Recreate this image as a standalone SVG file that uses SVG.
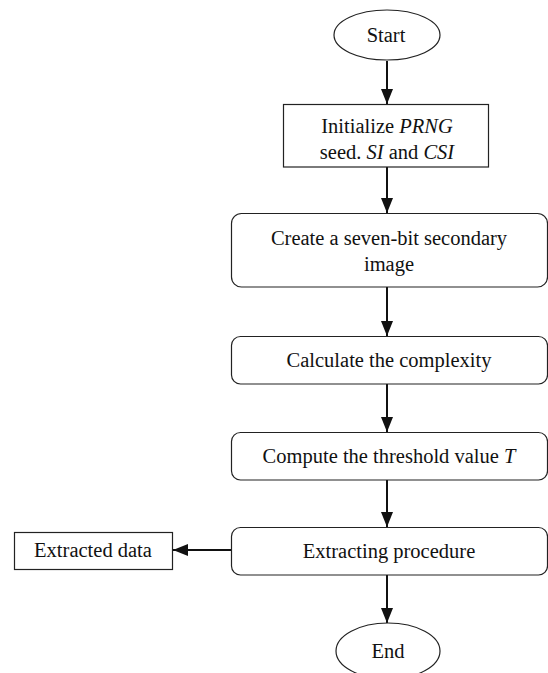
<svg xmlns="http://www.w3.org/2000/svg" width="548" height="673" viewBox="0 0 548 673">
<defs>
<style>
.shape{fill:#fff;stroke:#222;stroke-width:1.2}
.t{font-family:"Liberation Serif","Times New Roman",serif;font-size:20.5px;fill:#111;text-anchor:middle}
.it{font-style:italic}
.conn{stroke:#111;stroke-width:2;fill:none}
</style>
<marker id="av" viewBox="0 0 15 12" refX="15" refY="6" markerWidth="15" markerHeight="12" markerUnits="userSpaceOnUse" orient="auto">
<path d="M0,0 L15,6 L0,12 Z" fill="#111"/>
</marker>
</defs>
<rect width="548" height="673" fill="#fff"/>
<g id="connectors">
<line class="conn" x1="387" y1="61" x2="387" y2="104" marker-end="url(#av)"/>
<line class="conn" x1="387" y1="167" x2="387" y2="213" marker-end="url(#av)"/>
<line class="conn" x1="387" y1="287" x2="387" y2="336" marker-end="url(#av)"/>
<line class="conn" x1="387" y1="384" x2="387" y2="432" marker-end="url(#av)"/>
<line class="conn" x1="387" y1="480" x2="387" y2="527" marker-end="url(#av)"/>
<line class="conn" x1="387" y1="575" x2="387" y2="623" marker-end="url(#av)"/>
<line class="conn" x1="231" y1="550" x2="173" y2="550" marker-end="url(#av)"/>
</g>
<g id="start">
<ellipse class="shape" cx="387" cy="35" rx="53" ry="25"/>
<text class="t" x="386" y="42">Start</text>
</g>
<g id="init">
<rect class="shape" x="283.5" y="104.5" width="205" height="62.5"/>
<text class="t" x="387" y="133">Initialize <tspan class="it">PRNG</tspan></text>
<text class="t" x="387" y="159">seed. <tspan class="it">SI</tspan> and <tspan class="it">CSI</tspan></text>
</g>
<g id="create">
<rect class="shape" x="231.5" y="213.5" width="316" height="73.5" rx="10"/>
<text class="t" x="389" y="245">Create a seven-bit secondary</text>
<text class="t" x="389" y="271">image</text>
</g>
<g id="calc">
<rect class="shape" x="231.5" y="336.5" width="316" height="47.5" rx="9"/>
<text class="t" x="389" y="367">Calculate the complexity</text>
</g>
<g id="compute">
<rect class="shape" x="231.5" y="432.5" width="316" height="47.5" rx="9"/>
<text class="t" x="389" y="463">Compute the threshold value <tspan class="it">T</tspan></text>
</g>
<g id="extract">
<rect class="shape" x="231.5" y="527.5" width="316" height="47.5" rx="9"/>
<text class="t" x="389" y="558">Extracting procedure</text>
</g>
<g id="data">
<rect class="shape" x="14.5" y="532.5" width="158" height="37"/>
<text class="t" x="93" y="557">Extracted data</text>
</g>
<g id="end">
<ellipse class="shape" cx="388" cy="651" rx="52" ry="28"/>
<text class="t" x="388" y="658">End</text>
</g>
</svg>
